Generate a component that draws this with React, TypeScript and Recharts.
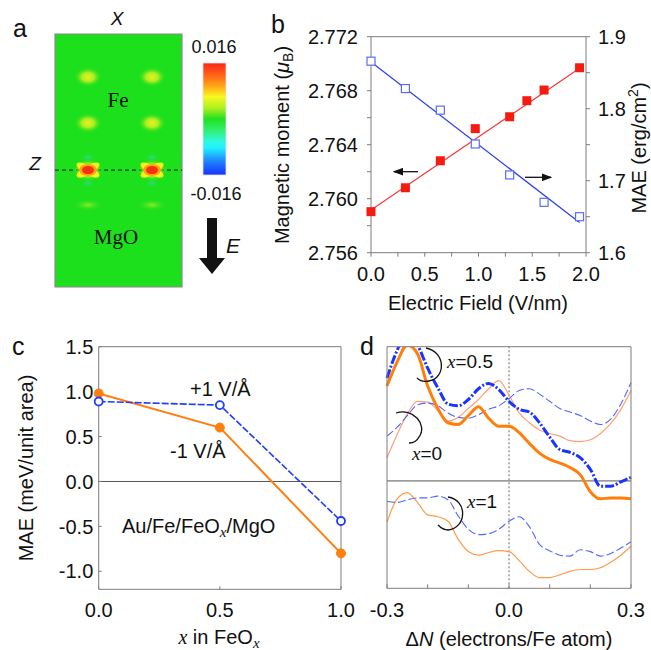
import React from "react";
import {
  ComposedChart,
  LineChart,
  ScatterChart,
  Scatter,
  Line,
  XAxis,
  YAxis,
  ReferenceLine,
  ReferenceArea,
} from "recharts";

const SANS = "'Liberation Sans', Arial, Helvetica, sans-serif";
const SERIF = "'Liberation Serif', 'Times New Roman', serif";
const AXIS = "#7d7d7d";
const TICK = { fontSize: 20, fill: "#111", fontFamily: SANS };

// ---- panel a: bright spots of the map (fractions of the slab width / height)
const spotCols = [0.26, 0.764];
const spotRows = [0.83, 0.648, 0.462, 0.324];
const spotKinds = ["warm", "warm", "hot", "faint"];
const interfaceZ = 0.462;

// ---- panel b: moment (left) and MAE (right) vs field
const fieldX = [0, 0.32, 0.645, 0.97, 1.29, 1.45, 1.61, 1.94];
const momentY = [2.75904, 2.76081, 2.76281, 2.76519, 2.76607, 2.76726, 2.76805, 2.7697];
const maeX = [0, 0.32, 0.645, 0.97, 1.29, 1.61, 1.94];
const maeY = [1.866, 1.828, 1.798, 1.751, 1.708, 1.67, 1.65];
const fitX = [0, 1.94];
const momentFit = [2.75916, 2.76966];
const maeFit = [1.865, 1.642];
const bXTicks = [0, 0.25, 0.5, 0.75, 1, 1.25, 1.5, 1.75, 2];
const bLeftTicks = [2.756, 2.758, 2.76, 2.762, 2.764, 2.766, 2.768, 2.77, 2.772];
const bRightTicks = [1.6, 1.65, 1.7, 1.75, 1.8, 1.85, 1.9];

// ---- panel c: MAE vs x in FeOx
const feoX = [0, 0.5, 1];
const maeMinus = [0.98, 0.6, -0.8];
const maePlus = [0.89, 0.85, -0.44];
const cYTicks = [-1, -0.5, 0, 0.5, 1, 1.5];
const cXTicks = [0, 0.5, 1];

// ---- panel d: MAE vs band filling
const dN = [
  -0.3, -0.275, -0.25, -0.225, -0.2, -0.175, -0.15, -0.125, -0.1, -0.075, -0.05, -0.025, 0,
  0.025, 0.05, 0.075, 0.1, 0.125, 0.15, 0.175, 0.2, 0.225, 0.25, 0.275, 0.3,
];
const x0Minus = [0.26, 0.52, 0.75, 0.89, 0.88, 0.79, 0.67, 0.71, 0.81, 0.91, 1.03, 1.12, 0.96, 0.76, 0.65, 0.57, 0.53, 0.5, 0.45, 0.44, 0.46, 0.53, 0.64, 0.8, 1.01];
const x0Plus = [0.5, 0.6, 0.73, 0.85, 0.87, 0.84, 0.76, 0.71, 0.7, 0.74, 0.8, 0.84, 0.92, 1.01, 1.03, 0.97, 0.89, 0.81, 0.77, 0.73, 0.67, 0.63, 0.69, 0.86, 1.1];
const x05Minus = [1.06, 1.33, 1.52, 1.42, 1.06, 0.81, 0.65, 0.63, 0.73, 0.83, 0.7, 0.61, 0.61, 0.54, 0.42, 0.31, 0.24, 0.2, 0.15, 0.07, -0.12, -0.2, -0.19, -0.19, -0.2];
const x05Plus = [1.15, 1.46, 1.66, 1.52, 1.26, 1.04, 0.86, 0.84, 0.91, 1.03, 1.09, 1.02, 0.89, 0.8, 0.77, 0.65, 0.49, 0.35, 0.32, 0.26, 0.13, -0.06, -0.06, -0.01, 0.04];
const x1Minus = [-0.46, -0.2, -0.13, -0.24, -0.38, -0.4, -0.45, -0.65, -0.79, -0.83, -0.8, -0.78, -0.79, -0.89, -1.01, -1.08, -1.08, -1.05, -1.01, -0.99, -0.99, -0.97, -0.91, -0.83, -0.73];
const x1Plus = [-0.23, -0.24, -0.21, -0.19, -0.19, -0.17, -0.21, -0.39, -0.54, -0.6, -0.59, -0.54, -0.45, -0.4, -0.51, -0.71, -0.78, -0.83, -0.84, -0.77, -0.79, -0.84, -0.81, -0.75, -0.68];
const dXTicks = [-0.3, -0.2, -0.1, 0, 0.1, 0.2, 0.3];
const dYTicks = [-1, -0.5, 0.5, 1];

const spots = spotRows.flatMap((y, i) => spotCols.map((x) => ({ x, y, kind: spotKinds[i] })));
const momentPts = fieldX.map((x, i) => ({ x, y: momentY[i] }));
const maePts = maeX.map((x, i) => ({ x, y: maeY[i] }));
const momentLine = fitX.map((x, i) => ({ x, y: momentFit[i] }));
const maeLine = fitX.map((x, i) => ({ x, y: maeFit[i] }));
const cRows = feoX.map((x, i) => ({ x, minus: maeMinus[i], plus: maePlus[i] }));
const dRows = dN.map((x, i) => ({
  x,
  a: x0Minus[i],
  b: x0Plus[i],
  c: x05Minus[i],
  d: x05Plus[i],
  e: x1Minus[i],
  f: x1Plus[i],
}));

function Spot(props: any) {
  const { cx, cy, payload } = props;
  if (payload.kind === "warm") return <rect x={cx - 14} y={cy - 10} width={28} height={20} rx={9} fill="url(#gWarm)" />;
  if (payload.kind === "faint") return <ellipse cx={cx} cy={cy} rx={15} ry={6} fill="url(#gFaint)" />;
  return (
    <g>
      <ellipse cx={cx} cy={cy - 13} rx={7} ry={5} fill="url(#gCyan)" />
      <ellipse cx={cx} cy={cy + 13} rx={7} ry={5} fill="url(#gCyan)" />
      <ellipse cx={cx} cy={cy} rx={15} ry={11} fill="url(#gHalo)" />
      <ellipse cx={cx} cy={cy} rx={13} ry={4.5} fill="#f2f41e" transform={`rotate(30 ${cx} ${cy})`} />
      <ellipse cx={cx} cy={cy} rx={13} ry={4.5} fill="#f2f41e" transform={`rotate(-30 ${cx} ${cy})`} />
      <ellipse cx={cx} cy={cy} rx={9} ry={6} fill="#ffa014" />
      <ellipse cx={cx} cy={cy} rx={6} ry={4} fill="#f4320e" />
    </g>
  );
}

function RedSquare(props: any) {
  const { cx, cy } = props;
  return <rect x={cx - 4.5} y={cy - 4.5} width={9} height={9} fill="#f41c10" />;
}

function BlueSquare(props: any) {
  const { cx, cy } = props;
  return <rect x={cx - 4} y={cy - 4} width={8} height={8} fill="#fff" stroke="#5a6cf4" strokeWidth={1.2} />;
}

const fmtLeft = (v: number) => (Math.round(v * 1000) % 4 === 0 ? v.toFixed(3) : "");
const fmtRight = (v: number) => (Math.round(v * 100) % 10 === 0 ? v.toFixed(1) : "");
const fmtB = (v: number) => (Math.round(v * 100) % 50 === 0 ? v.toFixed(1) : "");
const fmtD = (v: number) => (Math.abs(v) < 1e-9 || Math.abs(Math.abs(v) - 0.3) < 1e-9 ? v.toFixed(1) : "");

function PanelA() {
  return (
    <ScatterChart width={250} height={300} margin={{ top: 34, right: 68, bottom: 13, left: 55 }}>
      <defs>
        <radialGradient id="gWarm">
          <stop offset="0%" stopColor="#e6f41e" stopOpacity={1} />
          <stop offset="45%" stopColor="#c8f020" stopOpacity={0.85} />
          <stop offset="100%" stopColor="#1de01d" stopOpacity={0} />
        </radialGradient>
        <radialGradient id="gFaint">
          <stop offset="0%" stopColor="#a8ec26" stopOpacity={0.85} />
          <stop offset="100%" stopColor="#1de01d" stopOpacity={0} />
        </radialGradient>
        <radialGradient id="gCyan">
          <stop offset="0%" stopColor="#2cd8a8" stopOpacity={0.9} />
          <stop offset="100%" stopColor="#1de01d" stopOpacity={0} />
        </radialGradient>
        <radialGradient id="gHalo">
          <stop offset="0%" stopColor="#f0f420" stopOpacity={1} />
          <stop offset="60%" stopColor="#c8f020" stopOpacity={0.7} />
          <stop offset="100%" stopColor="#1de01d" stopOpacity={0} />
        </radialGradient>
      </defs>
      <XAxis type="number" dataKey="x" domain={[0, 1]} hide />
      <YAxis type="number" dataKey="y" domain={[0, 1]} hide />
      <ReferenceArea x1={0} x2={1} y1={0} y2={1} fill="#1de01d" fillOpacity={1} stroke="#8a8a8a" strokeWidth={1.2} />
      <Scatter data={spots} shape={Spot} isAnimationActive={false} />
      <ReferenceLine y={interfaceZ} stroke="#111" strokeWidth={1} strokeDasharray="4 3" />
    </ScatterChart>
  );
}

function PanelB() {
  return (
    <ComposedChart width={401} height={325} margin={{ top: 36.7, right: 5, bottom: 42.3, left: 61 }}>
      <XAxis
        type="number"
        dataKey="x"
        domain={[0, 2]}
        ticks={bXTicks}
        tickFormatter={fmtB}
        height={30}
        tick={TICK}
        tickSize={4}
        tickMargin={10}
        stroke={AXIS}
        interval={0}
      />
      <YAxis
        yAxisId="m"
        type="number"
        domain={[2.756, 2.772]}
        ticks={bLeftTicks}
        tickFormatter={fmtLeft}
        width={60}
        tick={TICK}
        tickSize={4}
        tickMargin={9}
        stroke={AXIS}
        interval={0}
      />
      <YAxis
        yAxisId="e"
        orientation="right"
        type="number"
        domain={[1.6, 1.9]}
        ticks={bRightTicks}
        tickFormatter={fmtRight}
        width={60}
        tick={TICK}
        tickSize={4}
        tickMargin={8}
        stroke={AXIS}
        interval={0}
      />
      <ReferenceLine yAxisId="m" y={2.772} stroke={AXIS} />
      <Line yAxisId="m" data={momentLine} dataKey="y" stroke="#f43a3a" strokeWidth={1.2} dot={false} isAnimationActive={false} />
      <Line yAxisId="e" data={maeLine} dataKey="y" stroke="#2a3ef0" strokeWidth={1.2} dot={false} isAnimationActive={false} />
      <Scatter yAxisId="m" data={momentPts} dataKey="y" shape={RedSquare} isAnimationActive={false} />
      <Scatter yAxisId="e" data={maePts} dataKey="y" shape={BlueSquare} isAnimationActive={false} />
    </ComposedChart>
  );
}

function PanelC() {
  return (
    <LineChart width={372} height={325} data={cRows} margin={{ top: 21.7, right: 31, bottom: 30.7, left: 38.7 }}>
      <XAxis
        type="number"
        dataKey="x"
        domain={[0, 1]}
        ticks={cXTicks}
        tickFormatter={(v: number) => v.toFixed(1)}
        height={30}
        tick={TICK}
        tickSize={-3}
        tickMargin={16.7}
        stroke={AXIS}
        interval={0}
      />
      <YAxis
        type="number"
        domain={[-1.2, 1.5]}
        ticks={cYTicks}
        tickFormatter={(v: number) => v.toFixed(1)}
        width={60}
        tick={TICK}
        tickSize={-3}
        tickMargin={8.4}
        stroke={AXIS}
        interval={0}
      />
      <ReferenceLine y={1.5} stroke={AXIS} />
      <ReferenceLine x={1} stroke={AXIS} />
      <ReferenceLine y={0} stroke="#555" />
      <Line
        dataKey="minus"
        stroke="#ff7f0e"
        strokeWidth={2}
        dot={{ r: 4.5, fill: "#ff7f0e", stroke: "#ff7f0e", strokeWidth: 1 }}
        isAnimationActive={false}
      />
      <Line
        dataKey="plus"
        stroke="#1f3cff"
        strokeWidth={1.6}
        strokeDasharray="7 2"
        dot={{ r: 4, fill: "#fff", stroke: "#1f3cff", strokeWidth: 1.8, strokeDasharray: "none" }}
        isAnimationActive={false}
      />
    </LineChart>
  );
}

function PanelD() {
  return (
    <LineChart width={306} height={325} data={dRows} margin={{ top: 20.7, right: 19, bottom: 31.7, left: 41 }}>
      <XAxis
        type="number"
        dataKey="x"
        domain={[-0.3, 0.3]}
        ticks={dXTicks}
        tickFormatter={fmtD}
        height={30}
        tick={TICK}
        tickSize={-4}
        tickMargin={18.7}
        stroke={AXIS}
        interval={0}
      />
      <XAxis
        xAxisId="t"
        orientation="top"
        type="number"
        domain={[-0.3, 0.3]}
        allowDataOverflow
        ticks={dXTicks}
        tick={false}
        height={1}
        tickSize={-4}
        stroke={AXIS}
        interval={0}
      />
      <YAxis
        yAxisId="l"
        type="number"
        domain={[-1.2, 1.5]}
        allowDataOverflow
        ticks={dYTicks}
        tick={false}
        width={1}
        tickSize={-4}
        stroke={AXIS}
        interval={0}
      />
      <YAxis
        yAxisId="r"
        orientation="right"
        type="number"
        domain={[-1.2, 1.5]}
        allowDataOverflow
        ticks={dYTicks}
        tick={false}
        width={1}
        tickSize={-4}
        stroke={AXIS}
        interval={0}
      />
      <ReferenceLine yAxisId="l" y={0} stroke="#555" />
      <ReferenceLine yAxisId="l" x={0} stroke="#666" strokeDasharray="2 2" />
      <Line yAxisId="l" type="monotone" dataKey="a" stroke="#ff9f78" strokeWidth={1.2} dot={false} isAnimationActive={false} />
      <Line yAxisId="l" type="monotone" dataKey="b" stroke="#5068ff" strokeWidth={1.1} strokeDasharray="8 3" dot={false} isAnimationActive={false} />
      <Line yAxisId="l" type="monotone" dataKey="e" stroke="#ff9a48" strokeWidth={1.2} dot={false} isAnimationActive={false} />
      <Line yAxisId="l" type="monotone" dataKey="f" stroke="#5068ff" strokeWidth={1.1} strokeDasharray="8 3" dot={false} isAnimationActive={false} />
      <Line yAxisId="l" type="monotone" dataKey="c" stroke="#ff7f0a" strokeWidth={3} dot={false} isAnimationActive={false} />
      <Line yAxisId="l" type="monotone" dataKey="d" stroke="#1a34ff" strokeWidth={3} strokeDasharray="9 2 2 2" dot={false} isAnimationActive={false} />
    </LineChart>
  );
}

function Overlay() {
  const it = { fontStyle: "italic" as const };
  return (
    <svg width={651} height={650} style={{ position: "absolute", left: 0, top: 0, pointerEvents: "none" }} fontFamily={SANS} fill="#111">
      <defs>
        <linearGradient id="cbar" x1="0" y1="0" x2="0" y2="1">
          <stop offset="0%" stopColor="#ff2418" />
          <stop offset="12%" stopColor="#ff6a18" />
          <stop offset="22%" stopColor="#ffb018" />
          <stop offset="30%" stopColor="#f8f820" />
          <stop offset="40%" stopColor="#b0f020" />
          <stop offset="50%" stopColor="#20e020" />
          <stop offset="60%" stopColor="#30f070" />
          <stop offset="70%" stopColor="#30f8e0" />
          <stop offset="76%" stopColor="#20f0ff" />
          <stop offset="86%" stopColor="#2090ff" />
          <stop offset="100%" stopColor="#1830ff" />
        </linearGradient>
        <marker id="ah" markerWidth="8" markerHeight="6" refX="7" refY="3" orient="auto">
          <path d="M0,0 L8,3 L0,6 Z" fill="#111" />
        </marker>
      </defs>

      {/* panel a */}
      <text x={13} y={37} fontSize={25}>a</text>
      <text x={117} y={25} fontSize={19} textAnchor="middle" {...it}>X</text>
      <text x={35} y={170} fontSize={19} textAnchor="middle" {...it}>Z</text>
      <text x={118} y={107} fontSize={21} textAnchor="middle" fontFamily={SERIF}>Fe</text>
      <text x={116} y={244} fontSize={21} textAnchor="middle" fontFamily={SERIF}>MgO</text>
      <rect x={203} y={63} width={23} height={112} fill="url(#cbar)" stroke="#e0e0e0" strokeWidth={0.8} />
      <text x={214} y={53} fontSize={18} textAnchor="middle">0.016</text>
      <text x={216} y={200} fontSize={18} textAnchor="middle">-0.016</text>
      <rect x={207} y={218} width={10} height={41} fill="#111" />
      <path d="M199,258 L225,258 L212,274 Z" fill="#111" />
      <text x={233} y={253} fontSize={21} textAnchor="middle" {...it}>E</text>

      {/* panel b */}
      <text x={271} y={33} fontSize={25}>b</text>
      <text transform="translate(289,145) rotate(-90)" fontSize={20} textAnchor="middle">
        Magnetic moment (<tspan {...it}>μ</tspan>
        <tspan fontSize={14} dy={4}>B</tspan>
        <tspan dy={-4}>)</tspan>
      </text>
      <text transform="translate(646,148) rotate(-90)" fontSize={20} textAnchor="middle">
        MAE (erg/cm<tspan fontSize={14} dy={-8}>2</tspan>
        <tspan dy={8}>)</tspan>
      </text>
      <text x={478} y={310} fontSize={20} textAnchor="middle">Electric Field (V/nm)</text>
      <line x1={418} y1={171.7} x2={394} y2={171.7} stroke="#111" strokeWidth={1.3} markerEnd="url(#ah)" />
      <line x1={525} y1={177.3} x2={551} y2={177.3} stroke="#111" strokeWidth={1.3} markerEnd="url(#ah)" />

      {/* panel c */}
      <text x={12} y={355} fontSize={25}>c</text>
      <text transform="translate(33,468) rotate(-90)" fontSize={20} textAnchor="middle">MAE (meV/unit area)</text>
      <text x={190} y={396} fontSize={20}>+1 V/Å</text>
      <text x={170} y={458} fontSize={20}>-1 V/Å</text>
      <text x={122} y={533} fontSize={20}>
        Au/Fe/FeO<tspan fontFamily={SERIF} {...it} fontSize={15} dy={4}>x</tspan>
        <tspan dy={-4}>/MgO</tspan>
      </text>
      <text x={219} y={644} fontSize={20} textAnchor="middle">
        <tspan fontFamily={SERIF} {...it}>x</tspan> in FeO<tspan fontFamily={SERIF} {...it} fontSize={15} dy={4}>x</tspan>
      </text>

      {/* panel d */}
      <text x={360} y={355} fontSize={25}>d</text>
      <text x={509} y={646} fontSize={20} textAnchor="middle">
        Δ<tspan {...it}>N</tspan> (electrons/Fe atom)
      </text>
      <g fill="none" stroke="#111" strokeWidth={1.3}>
        <path d="M426,348 C446,352 446,378 429,381 C424,382 420,381 417,378" />
        <path d="M396,413 C413,407 428,425 419,437 C417,441 413,443 409,443" />
        <path d="M448,497 C468,500 467,528 448,530 C444,530 441,528 438,525" />
      </g>
      <text x={447} y={368} fontSize={19}>
        <tspan fontFamily={SERIF} {...it}>x</tspan>=0.5
      </text>
      <text x={412} y={460} fontSize={19}>
        <tspan fontFamily={SERIF} {...it}>x</tspan>=0
      </text>
      <text x={467} y={508} fontSize={19}>
        <tspan fontFamily={SERIF} {...it}>x</tspan>=1
      </text>
    </svg>
  );
}

export default function App() {
  return (
    <div style={{ position: "absolute", left: 0, top: 0, width: 651, height: 650, background: "#fff", fontFamily: SANS }}>
      <div style={{ position: "absolute", left: 0, top: 0 }}>
        <PanelA />
      </div>
      <div style={{ position: "absolute", left: 250, top: 0 }}>
        <PanelB />
      </div>
      <div style={{ position: "absolute", left: 0, top: 325 }}>
        <PanelC />
      </div>
      <div style={{ position: "absolute", left: 345, top: 325 }}>
        <PanelD />
      </div>
      <Overlay />
    </div>
  );
}
